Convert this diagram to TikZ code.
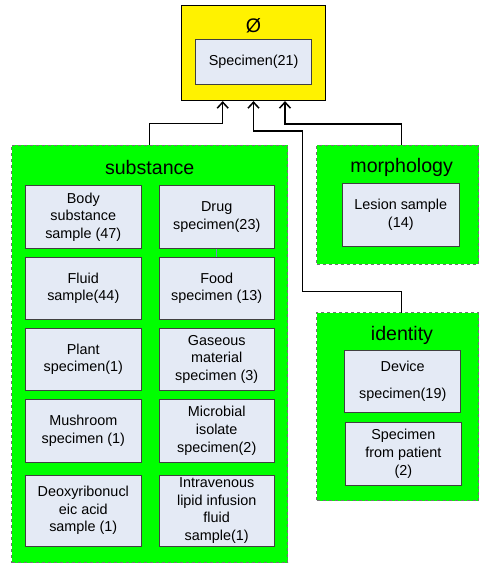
\documentclass[tikz,border=0pt]{standalone}
\usepackage{fontspec}
\setmainfont{Liberation Sans}
\usepackage{tikz}
\usetikzlibrary{arrows.meta}
\definecolor{cellblue}{HTML}{E4EAF5}
\definecolor{linkblue}{HTML}{6E8CC0}
\tikzstyle{arrow} = [line width=1.5pt,-{Straight Barb[length=6pt,width=11pt,line width=1.5pt]}]
\tikzstyle{group} = [draw=black!55,dashed,fill=green,line width=0.8pt]
\tikzstyle{cell} = [draw=black!75,fill=cellblue,line width=0.8pt,align=center,inner sep=0pt,font=\fontsize{14.4}{17.6}\selectfont]
\tikzstyle{grouptitle} = [inner sep=0pt,font=\fontsize{19.6}{22}\selectfont]

\begin{document}
\begin{tikzpicture}[x=1pt,y=-1pt]
\useasboundingbox (0,0) rectangle (479,563);

% Top concept:
\node[draw=black,fill=yellow,line width=0.8pt,minimum width=144.4,minimum height=95.4] (top) at (253.5,53) {};
\node[grouptitle] (empty) at (253.5,25.5) {Ø};
\node[cell,minimum width=116,minimum height=44.6] (specimen) at (253.7,62) {Specimen(21)};

% Groups:
% The boxes are drawn first, the titles on top of them
\node[group,minimum width=276,minimum height=417.7] (subst) at (149.7,353.8) {};
\node[grouptitle] (substtitle) at (149.7,167.3) {substance};
\node[group,minimum width=161.8,minimum height=119.3] (morph) at (397.6,204.7) {};
\node[grouptitle] (morphtitle) at (401.7,167.3) {morphology};
\node[group,minimum width=161.8,minimum height=188] (ident) at (397.6,406.7) {};
\node[grouptitle] (identtitle) at (402,335) {identity};

% Substance members:
% Left column
\foreach \name/\y/\h/\txt in {
	body/217/62.6/{Body\\substance\\sample (47)},
	fluid/288.3/62/{Fluid\\sample(44)},
	plant/359.4/62.2/{Plant\\specimen(1)},
	mushroom/430.7/62.7/{Mushroom\\specimen (1)},
	dna/510.5/71/{Deoxyribonucl\\eic acid\\sample (1)}}
{
	\node[cell,minimum width=115.3,minimum height=\h] (\name) at (83.3,\y) {\txt};
}
% Right column
\foreach \name/\y/\h/\txt in {
	drug/217/62.6/{Drug\\specimen(23)},
	food/288.3/62/{Food\\specimen (13)},
	gas/359.4/62.2/{Gaseous\\material\\specimen (3)},
	microbe/430.7/62.7/{Microbial\\isolate\\specimen(2)},
	lipid/510.5/71/{Intravenous\\lipid infusion\\fluid\\sample(1)}}
{
	\node[cell,minimum width=115.3,minimum height=\h] (\name) at (216.7,\y) {\txt};
}
\draw[linkblue,line width=0.7pt] (drug.south) -- (food.north);

% Morphology and identity members:
\node[cell,minimum width=116.3,minimum height=62.7] (lesion) at (400.8,214.7) {Lesion sample\\(14)};
\node[cell,minimum width=116,minimum height=62] (device) at (402.7,381.3) {Device\\[9pt]specimen(19)};
\node[cell,minimum width=116.7,minimum height=62.3] (patient) at (403.3,453.8) {Specimen\\from patient\\(2)};

% Connectors:
\coordinate (morphtop) at (401.7,145);
\coordinate (identtop) at (401.7,312.7);
\draw[arrow] (subst.north) -- ++(0,-21) -| ([xshift=-30.8]top.south);
\draw[arrow] (identtop) -- ++(0,-21) -| (302.3,131) -| (top.south);
\draw[arrow] (morphtop) -- ++(0,-21) -| ([xshift=31.5]top.south);

\end{tikzpicture}
\end{document}
